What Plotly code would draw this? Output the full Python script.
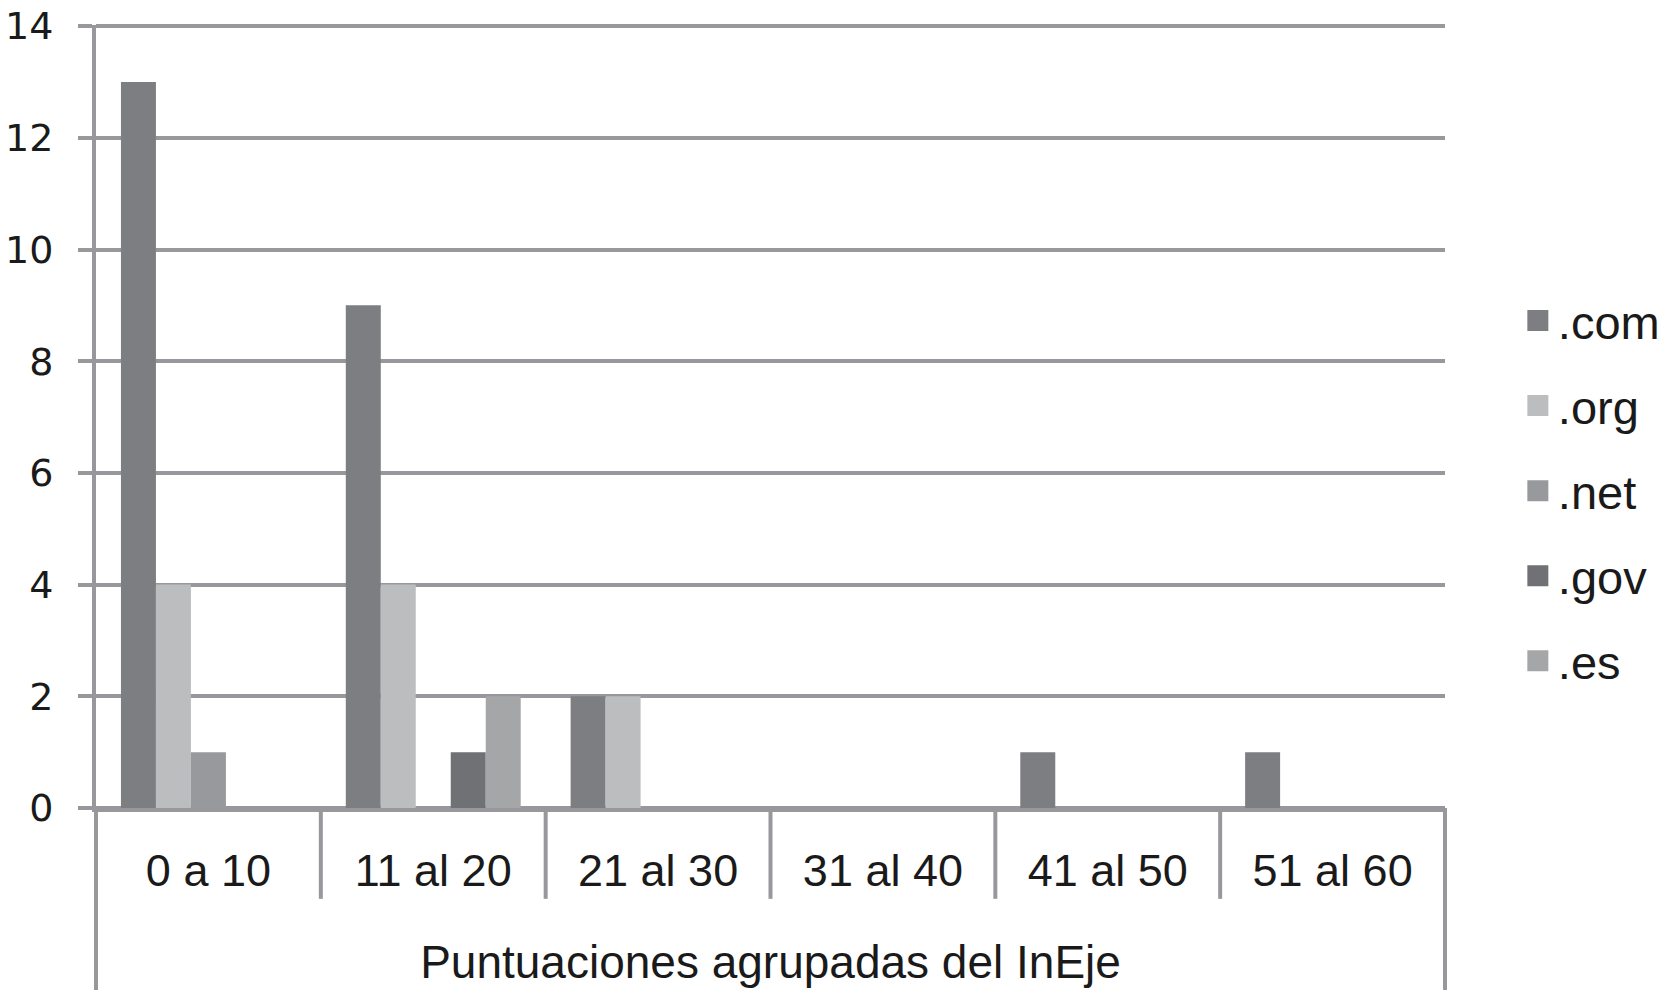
import plotly.graph_objects as go

categories = ["0 a 10", "11 al 20", "21 al 30", "31 al 40", "41 al 50", "51 al 60"]
series_names = [".com", ".org", ".net", ".gov", ".es"]
com_values = [13, 9, 2, 0, 1, 1]
org_values = [4, 4, 2, 0, 0, 0]
net_values = [1, 0, 0, 0, 0, 0]
gov_values = [0, 1, 0, 0, 0, 0]
es_values = [0, 2, 0, 0, 0, 0]
series_values = [com_values, org_values, net_values, gov_values, es_values]
series_colors = ["#7d7e82", "#bcbdbf", "#98999c", "#707174", "#a5a6a8"]
y_ticks = [0, 2, 4, 6, 8, 10, 12, 14]
x_title = "Puntuaciones agrupadas del InEje"

GRID = "#98989c"
TEXT = "#1a1a1a"

fig = go.Figure()
for name, vals, col in zip(series_names, series_values, series_colors):
    fig.add_trace(go.Bar(x=categories, y=vals, name=name, marker_color=col,
                         marker_line_width=0, legendgroup=name, showlegend=False))
    # legend entry with a larger square swatch
    fig.add_trace(go.Scatter(x=[categories[0]], y=[None], mode="markers", name=name,
                             legendgroup=name, showlegend=True, hoverinfo="skip",
                             marker=dict(symbol="square", size=16, color=col,
                                         line=dict(color=col, width=5))))

fig.update_layout(
    width=1664, height=990,
    margin=dict(l=96, r=219, t=25, b=182, autoexpand=False),
    paper_bgcolor="white", plot_bgcolor="white",
    barmode="group", bargap=0.222, bargroupgap=0,
    font=dict(family="Liberation Sans, Arial, sans-serif", color=TEXT),
    showlegend=True,
    legend=dict(x=1.054, xanchor="left", y=0.405, yanchor="middle",
                font=dict(size=47, family="Liberation Sans, Arial, sans-serif", color=TEXT),
                tracegroupgap=21, bgcolor="rgba(0,0,0,0)", itemsizing="trace"),
)

fig.update_yaxes(range=[0, 14.02], tickvals=y_ticks, showgrid=True, gridcolor=GRID, gridwidth=4,
                 showline=True, linecolor=GRID, linewidth=4,
                 ticks="outside", ticklen=14, tickwidth=4, tickcolor=GRID,
                 zeroline=True, zerolinecolor=GRID, zerolinewidth=4,
                 tickfont=dict(family="DejaVu Sans", size=38, color=TEXT),
                 ticklabelstandoff=17, fixedrange=True)

fig.update_xaxes(showline=True, linecolor=GRID, linewidth=4, ticks="",
                 tickfont=dict(size=45, color=TEXT), ticklabelstandoff=20,
                 title=dict(text=x_title, font=dict(size=46, color=TEXT), standoff=52),
                 fixedrange=True)

# category divider lines below the baseline
for i in range(1, len(categories)):
    fig.add_shape(type="line", xref="x", yref="paper", x0=i - 0.5, x1=i - 0.5,
                  y0=0, y1=-0.116, line=dict(color=GRID, width=4), layer="above")
# outer frame of the category area
for xp in (0, 1):
    fig.add_shape(type="line", xref="paper", yref="paper", x0=xp, x1=xp,
                  y0=0, y1=-0.26, line=dict(color=GRID, width=4), layer="above")

fig.write_html("out.html", config={"displayModeBar": False},
               post_script="document.body.style.margin='0px';")
